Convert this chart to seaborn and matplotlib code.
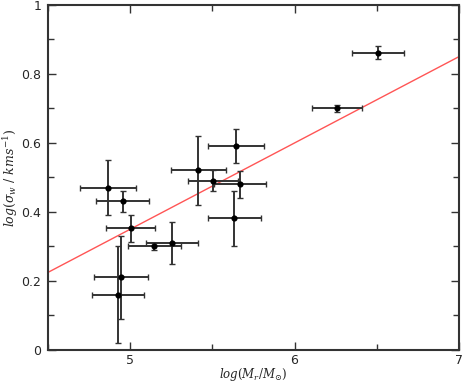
"""Velocity dispersion vs mass scatter with error bars and linear fit."""
import matplotlib

matplotlib.use("Agg")

import matplotlib.pyplot as plt
import numpy as np
import pandas as pd
import seaborn as sns
from matplotlib.ticker import FixedFormatter, FixedLocator, MultipleLocator

# Data.
log_mass = [4.864, 4.953, 5.002, 5.146, 5.254, 4.943, 4.925,
            5.415, 5.504, 5.644, 5.667, 5.634, 6.258, 6.508]
log_sigma = [0.470, 0.431, 0.352, 0.301, 0.310, 0.211, 0.160,
             0.521, 0.491, 0.591, 0.480, 0.381, 0.700, 0.862]
mass_err = [0.17, 0.16, 0.15, 0.16, 0.16, 0.165, 0.16,
            0.165, 0.15, 0.17, 0.16, 0.16, 0.15, 0.16]
sigma_err = [0.08, 0.03, 0.04, 0.01, 0.06, 0.12, 0.14,
             0.10, 0.03, 0.05, 0.04, 0.08, 0.01, 0.02]

# Linear fit shown in red: log(sigma) = slope * log(M) + intercept
fit_slope = 0.25
fit_intercept = -0.90
fit_x = [4.5, 7.0]

x_ticks = [5, 6, 7]
x_tick_labels = ["5", "6", "7"]
y_ticks = [0, 0.2, 0.4, 0.6, 0.8, 1.0]
y_tick_labels = ["0", "0.2", "0.4", "0.6", "0.8", "1"]

df = pd.DataFrame({"logM": log_mass, "logsig": log_sigma,
                   "xerr": mass_err, "yerr": sigma_err})
fit_df = pd.DataFrame({"logM": fit_x})
fit_df["logsig"] = fit_slope * np.asarray(fit_x) + fit_intercept

sns.set_theme(style="ticks")
plt.rcParams["mathtext.fontset"] = "dejavuserif"

fig = plt.figure(figsize=(4.63, 3.82), dpi=100)
ax = fig.add_axes([0.104, 0.084, 0.887, 0.903])

sns.lineplot(data=fit_df, x="logM", y="logsig", color="#ff5555",
             linewidth=1.0, ax=ax)
ax.errorbar(df["logM"], df["logsig"], xerr=df["xerr"], yerr=df["yerr"],
            fmt="none", ecolor="#333333", elinewidth=1.4, capsize=2,
            capthick=1.0, zorder=3)
sns.scatterplot(data=df, x="logM", y="logsig", color="black", s=20,
                edgecolor="black", linewidth=0, zorder=4, ax=ax)

ax.set_xlim(4.5, 7)
ax.set_ylim(0, 1)
ax.xaxis.set_major_locator(FixedLocator(x_ticks))
ax.xaxis.set_major_formatter(FixedFormatter(x_tick_labels))
ax.xaxis.set_minor_locator(MultipleLocator(0.5))
ax.yaxis.set_major_locator(FixedLocator(y_ticks))
ax.yaxis.set_major_formatter(FixedFormatter(y_tick_labels))
ax.yaxis.set_minor_locator(MultipleLocator(0.1))

ax.tick_params(which="both", direction="in", top=True, right=True,
               color="#333333", labelsize=9, width=1.0)
ax.tick_params(which="major", length=6)
ax.tick_params(which="minor", length=4)
ax.tick_params(axis="x", which="major", pad=3)
ax.tick_params(axis="y", which="major", pad=5)
for spine in ax.spines.values():
    spine.set_linewidth(1.5)
    spine.set_color("#333333")

ax.set_xlabel(r"$log(M_r/M_{\odot})$", fontsize=8.5, labelpad=-1)
ax.set_ylabel(r"$log(\sigma_w\ /\ kms^{-1})$", fontsize=9, labelpad=1)

fig.savefig("out.png", dpi=100, facecolor="white")
plt.close(fig)
